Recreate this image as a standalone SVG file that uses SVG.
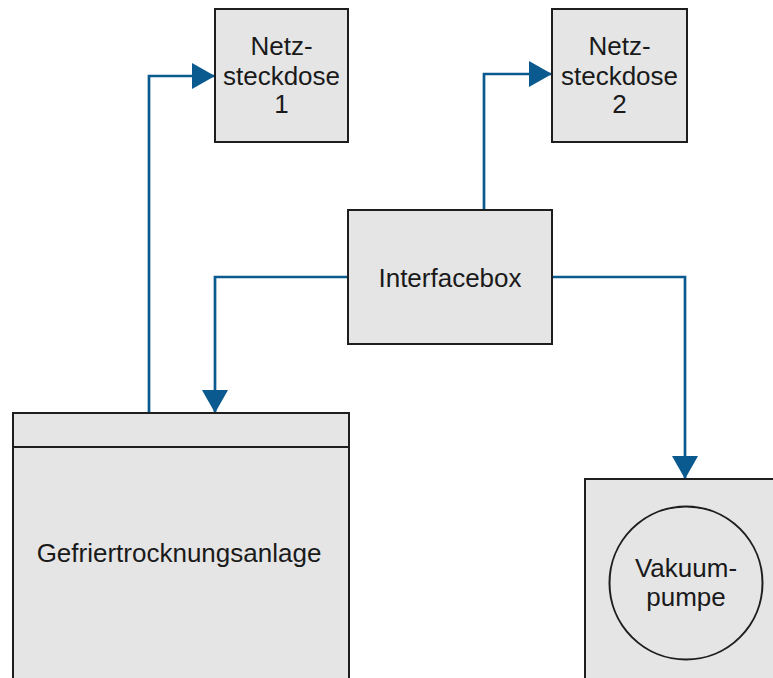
<svg xmlns="http://www.w3.org/2000/svg" width="773" height="678" viewBox="0 0 773 678">
<defs>
<style>
.box{fill:#e5e5e5;stroke:#1e1e1e;stroke-width:2}
.lbl{font-family:"Liberation Sans",Arial,sans-serif;font-size:26px;fill:#1a1a1a;text-anchor:middle}
.conn{fill:none;stroke:#0b5a8f;stroke-width:2.7}
</style>
<marker id="arr" markerUnits="userSpaceOnUse" markerWidth="25" markerHeight="28" refX="23" refY="13" orient="auto">
<path d="M0,0 L23,13 L0,26 Z" fill="#0b5a8f"/>
</marker>
</defs>
<rect width="773" height="678" fill="#ffffff"/>
<g id="connectors">
<path class="conn" d="M149,413 V76 H215" marker-end="url(#arr)"/>
<path class="conn" d="M484,210 V74 H552" marker-end="url(#arr)"/>
<path class="conn" d="M348,277 H215 V413" marker-end="url(#arr)"/>
<path class="conn" d="M552,277 H685 V479" marker-end="url(#arr)"/>
</g>
<g id="netzsteckdose1">
<rect class="box" x="215" y="9" width="133" height="133"/>
<text class="lbl" x="281.5" y="55">Netz-</text>
<text class="lbl" x="281.5" y="84.5">steckdose</text>
<text class="lbl" x="281.5" y="113">1</text>
</g>
<g id="netzsteckdose2">
<rect class="box" x="552" y="9" width="135" height="133"/>
<text class="lbl" x="619.5" y="55">Netz-</text>
<text class="lbl" x="619.5" y="84.5">steckdose</text>
<text class="lbl" x="619.5" y="113">2</text>
</g>
<g id="interfacebox">
<rect class="box" x="348" y="210" width="204" height="134"/>
<text class="lbl" x="450" y="287">Interfacebox</text>
</g>
<g id="gefriertrocknungsanlage">
<rect class="box" x="13" y="413" width="336" height="280"/>
<line x1="13" y1="447" x2="349" y2="447" stroke="#1e1e1e" stroke-width="2"/>
<text class="lbl" x="179" y="562">Gefriertrocknungsanlage</text>
</g>
<g id="vakuumpumpe">
<rect class="box" x="585" y="479" width="200" height="220"/>
<circle cx="686" cy="583" r="76.5" fill="none" stroke="#1e1e1e" stroke-width="2"/>
<text class="lbl" x="686" y="577">Vakuum-</text>
<text class="lbl" x="686" y="606">pumpe</text>
</g>
</svg>
